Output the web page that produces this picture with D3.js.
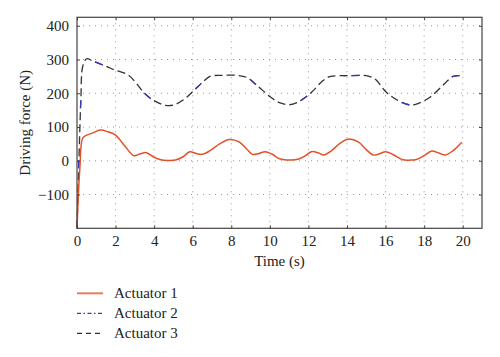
<!DOCTYPE html>
<html>
<head>
<meta charset="utf-8">
<script src="https://cdn.jsdelivr.net/npm/d3@7"></script>
<style>
  html, body { margin: 0; padding: 0; background: #fff; }
  svg { display: block; }
</style>
</head>
<body>
<svg id="chart" width="500" height="357"></svg>
<script>
// ---- data ----
const seriesNames = ["Actuator 1", "Actuator 2", "Actuator 3"];

const time1 = [0, 0.15, 0.3, 0.5, 0.8, 1.2, 1.6, 2.0, 2.5, 2.95, 3.25, 3.6, 3.95, 4.3, 4.7, 5.1, 5.5, 5.85, 6.15, 6.5, 6.9, 7.4, 7.9, 8.4, 8.8, 9.1, 9.4, 9.75, 10.1, 10.5, 11.1, 11.5, 11.85, 12.15, 12.5, 12.8, 13.2, 13.6, 14.05, 14.6, 15.0, 15.36, 15.7, 16.0, 16.4, 16.9, 17.3, 17.6, 18.0, 18.4, 18.75, 19.1, 19.5, 19.95];
const actuator1 = [-200, -20, 68, 76, 82, 91, 86, 76, 42, 15, 20, 24, 12, 4, 1, 2, 12, 27, 22, 19, 30, 50, 63, 56, 35, 19, 21, 27, 20, 6, 2, 5, 15, 27, 24, 17, 30, 50, 64, 55, 33, 17, 21, 27, 18, 3, 2, 4, 15, 29, 23, 17, 30, 55];

const time3 = [0, 0.1, 0.2, 0.3, 0.5, 0.8, 1.5, 2.0, 2.6, 3.0, 3.5, 4.0, 4.6, 5.0, 5.5, 6.0, 6.5, 6.9, 7.5, 8.3, 8.8, 9.3, 10.0, 10.5, 11.0, 11.5, 12.2, 12.7, 13.1, 14.0, 15.1, 15.5, 16.0, 16.6, 17.2, 17.6, 18.3, 19.0, 19.5, 19.95];
const actuator2 = [-200, 10, 182, 280, 302, 296, 280, 268, 256, 235, 200, 178, 164, 165, 180, 205, 232, 250, 253, 253, 247, 225, 190, 172, 166, 175, 205, 235, 249, 252, 251, 240, 205, 180, 166, 168, 188, 225, 250, 252];
const actuator3 = [-200, 0, 180, 280, 302, 296, 280, 268, 256, 235, 200, 178, 164, 165, 180, 205, 232, 250, 253, 253, 247, 225, 190, 172, 166, 175, 205, 235, 249, 252, 251, 240, 205, 180, 166, 168, 188, 225, 250, 252];

const xTicks = [0, 2, 4, 6, 8, 10, 12, 14, 16, 18, 20];
const yTicks = [-100, 0, 100, 200, 300, 400];
const xDomain = [0, 21];
const yDomain = [-200, 425];

// ---- layout ----
const svg = d3.select("#chart");
const L = 77, R = 482, T = 17.3, B = 228.3;
const font = "'Liberation Serif', 'Times New Roman', serif";
const colors = ["#e2522a", "#3a3ab4", "#2e323c"];

const x = d3.scaleLinear().domain(xDomain).range([L, R]);
const y = d3.scaleLinear().domain(yDomain).range([B, T]);

// grid
const grid = svg.append("g");
grid.selectAll("line.vx").data(xTicks.filter(d => d > 0)).join("line")
  .attr("x1", d => x(d)).attr("x2", d => x(d)).attr("y1", T).attr("y2", B)
  .attr("stroke", "#8a8a8a").attr("stroke-width", 0.9).attr("stroke-dasharray", "1,5");
grid.selectAll("line.hy").data(yTicks).join("line")
  .attr("x1", L).attr("x2", R).attr("y1", d => y(d)).attr("y2", d => y(d))
  .attr("stroke", "#8a8a8a").attr("stroke-width", 0.9).attr("stroke-dasharray", "1,5");

// lines
const line = (times) => d3.line()
  .x((d, i) => x(times[i]))
  .y(d => y(d))
  .curve(d3.curveCatmullRom.alpha(0.5));

const plot = svg.append("g");
plot.append("path").datum(actuator3).attr("d", line(time3))
  .attr("fill", "none").attr("stroke", colors[2]).attr("stroke-width", 1.3)
  .attr("stroke-dasharray", "8,4");
plot.append("path").datum(actuator2).attr("d", line(time3))
  .attr("fill", "none").attr("stroke", colors[1]).attr("stroke-width", 1.3)
  .attr("stroke-dasharray", "8,52");
plot.append("path").datum(actuator1).attr("d", line(time1))
  .attr("fill", "none").attr("stroke", colors[0]).attr("stroke-width", 1.5);

// axes (ticks inward)
const axisColor = "#444";
const gx = svg.append("g").attr("transform", `translate(0,${B})`)
  .call(d3.axisBottom(x).tickValues(xTicks).tickSizeInner(-3).tickSizeOuter(0).tickPadding(7).tickFormat(d3.format("d")));
const gxTop = svg.append("g").attr("transform", `translate(0,${T})`)
  .call(d3.axisTop(x).tickValues(xTicks).tickSizeInner(-3).tickSizeOuter(0).tickFormat(""));
const gy = svg.append("g").attr("transform", `translate(${L},0)`)
  .call(d3.axisLeft(y).tickValues(yTicks).tickSizeInner(-3).tickSizeOuter(0).tickPadding(8).tickFormat(d3.format("d")));
const gyR = svg.append("g").attr("transform", `translate(${R},0)`)
  .call(d3.axisRight(y).tickValues(yTicks).tickSizeInner(-3).tickSizeOuter(0).tickFormat(""));

[gx, gxTop, gy, gyR].forEach(g => {
  g.select(".domain").remove();
  g.selectAll(".tick line").attr("stroke", axisColor).attr("stroke-width", 1);
  g.selectAll(".tick text").attr("fill", "#222").style("font-family", font).style("font-size", "15px");
});

// frame
svg.append("rect").attr("x", L).attr("y", T).attr("width", R - L).attr("height", B - T)
  .attr("fill", "none").attr("stroke", axisColor).attr("stroke-width", 1.2);

// axis titles
svg.append("text").attr("x", (L + R) / 2).attr("y", 266)
  .attr("text-anchor", "middle").attr("fill", "#222")
  .style("font-family", font).style("font-size", "15px").text("Time (s)");
svg.append("text").attr("transform", `translate(30,${(T + B) / 2}) rotate(-90)`)
  .attr("text-anchor", "middle").attr("fill", "#222")
  .style("font-family", font).style("font-size", "15px").text("Driving force (N)");

// legend
const legendY = [293.3, 313.3, 333.3];
const dashes = [null, "4,2.5,1.5,2.5", "5,4"];
const lg = svg.append("g");
seriesNames.forEach((name, i) => {
  lg.append("line").attr("x1", 77).attr("x2", 103).attr("y1", legendY[i]).attr("y2", legendY[i])
    .attr("stroke", colors[i]).attr("stroke-width", i === 0 ? 2 : 1.3)
    .attr("stroke-opacity", i === 0 ? 0.75 : 1)
    .attr("stroke-dasharray", dashes[i]);
  lg.append("text").attr("x", 114).attr("y", legendY[i] + 5).attr("fill", "#222")
    .style("font-family", font).style("font-size", "15px").text(name);
});
</script>
</body>
</html>
